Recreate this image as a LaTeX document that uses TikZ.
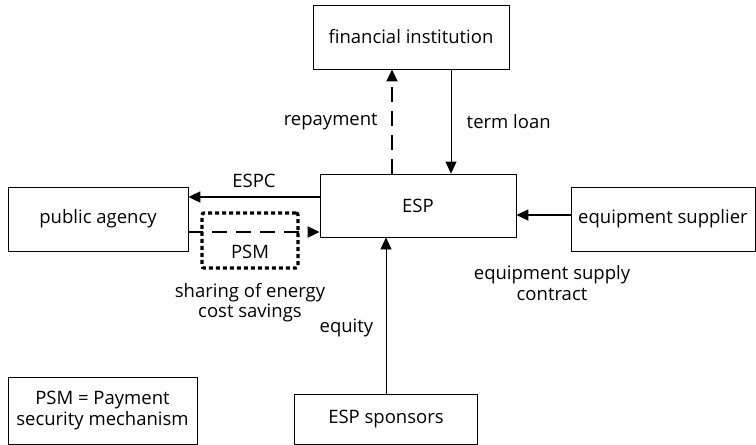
\documentclass[tikz,border=0pt]{standalone}
\usepackage{fontspec}
\setmainfont{Open Sans}
\usetikzlibrary{positioning,arrows.meta}

\begin{document}
\begin{tikzpicture}
[x=1pt,y=-1pt,font=\fontsize{18.5}{20.5}\selectfont,
 box/.style={draw,line width=0.8pt,inner sep=0pt},
 tip/.style={-{Triangle[length=12pt,width=11pt]}},
 heavy/.style={tip,line width=1.8pt},
 light/.style={tip,line width=0.8pt},
 dsh/.style={dash pattern=on 15pt off 9pt}]
\useasboundingbox (0,0) rectangle (756,445);
\node[box,minimum width=196pt,minimum height=64pt](fin) at (411,37){financial institution};
\node[box,minimum width=196pt,minimum height=63pt](esp) at (418,205.5){ESP};
\node[box,minimum width=180pt,minimum height=64pt](pub) at (98,219){public agency};
\node[box,minimum width=184pt,minimum height=64pt](sup) at (663,219){equipment supplier};
\node[box,minimum width=183pt,minimum height=50pt](spons) at (386,419){ESP sponsors};
\node[box,minimum width=189pt,minimum height=67pt,align=center](psmkey) at (102.5,410.5){PSM = Payment\\security mechanism};
\node[draw,line width=3.2pt,dash pattern=on 4pt off 3pt,rounded corners=2pt,
      minimum width=96pt,minimum height=55pt](psm) at (250,240.5){};
\node(psmtxt) at ([yshift=-11pt]psm.center){PSM};
\node[below=10pt of psm,align=center](share){sharing of energy\\cost savings};
\node[align=center](contract) at (552,283){equipment supply\\contract};
\coordinate (rp) at ([xshift=-26pt]esp.north);
\coordinate (tl) at ([xshift=40pt]fin.south);
\coordinate (ec) at ([yshift=8.5pt]esp.west);
\coordinate (sv) at ([yshift=-13pt]pub.east);
\coordinate (eq) at ([yshift=4pt]sup.west);
\path[heavy,dsh] (rp) edge node[left=10pt]{repayment} (rp |- fin.south);
\path[light] (tl) edge node[right=12pt]{term loan} (tl |- esp.north);
\path[heavy] (ec) edge node[above=5pt]{ESPC} (ec -| pub.east);
\path[heavy,dsh] (sv) edge (sv -| esp.west);
\path[heavy] (eq) edge (eq -| esp.east);
\path[light] (spons.north) edge node[pos=0.42,left=9pt]{equity} (spons.north |- esp.south);
\end{tikzpicture}
\end{document}
